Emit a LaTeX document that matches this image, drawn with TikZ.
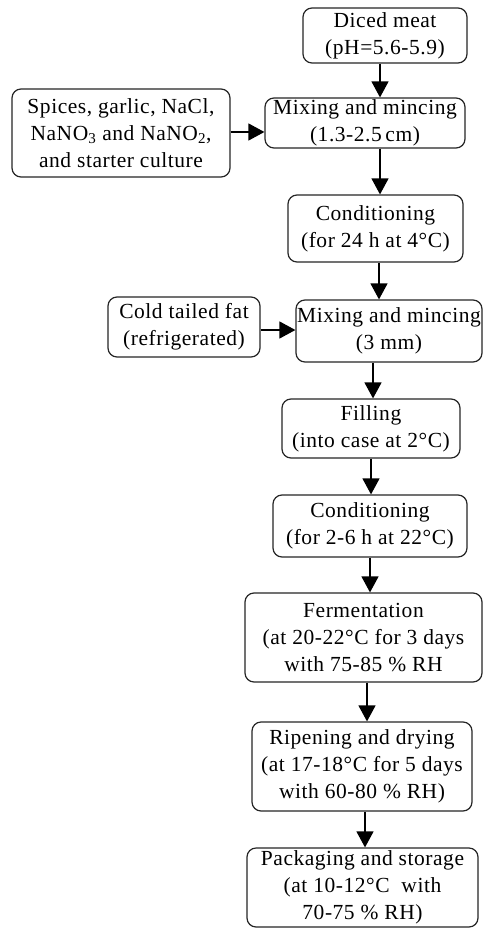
\documentclass[tikz,border=0pt]{standalone}
\usepackage{fontspec}
\setmainfont{Liberation Serif}[LetterSpace=2.5]
\usetikzlibrary{arrows.meta}
\begin{document}
\begin{tikzpicture}[x=1pt,y=-1pt,
  box/.style={draw=black!85,line width=1.2pt,rounded corners=9pt,inner sep=0pt,align=center,
    font=\fontsize{21.5}{27}\selectfont},
  arr/.style={line width=1.3pt,-{Triangle[width=17pt,length=16pt]}}]
\useasboundingbox[fill=white] (0,0) rectangle (483,928);
\node[box,minimum width=164pt,minimum height=55pt] (b1) at (385,35.5) {Diced meat\\(pH=5.6-5.9)};
\node[box,minimum width=200pt,minimum height=50pt] (b2) at (365,123) {Mixing and mincing\\(1.3-2.5\,cm)};
\node[box,minimum width=218pt,minimum height=88pt] (sp) at (121,133) {Spices, garlic, NaCl,\\NaNO\textsubscript{3} and NaNO\textsubscript{2},\\and starter culture};
\node[box,minimum width=175pt,minimum height=67pt] (b3) at (375.5,228.5) {Conditioning\\(for 24 h at 4°C)};
\node[box,minimum width=152pt,minimum height=60pt] (ft) at (184,327) {Cold tailed fat\\(refrigerated)};
\node[box,minimum width=186pt,minimum height=62pt] (b4) at (389,331) {Mixing and mincing\\(3 mm)};
\node[box,minimum width=178pt,minimum height=59pt] (b5) at (371,428.5) {Filling\\(into case at 2°C)};
\node[box,minimum width=194pt,minimum height=62pt] (b6) at (370,526) {Conditioning\\(for 2-6 h at 22°C)};
\node[box,minimum width=237pt,minimum height=89pt] (b7) at (363.5,637.5) {Fermentation\\(at 20-22°C for 3 days\\with 75-85 \% RH};
\node[box,minimum width=220pt,minimum height=89pt] (b8) at (362,766.5) {Ripening and drying\\(at 17-18°C for 5 days\\with 60-80 \% RH)};
\node[box,minimum width=231pt,minimum height=79pt] (b9) at (362.5,887.5) {Packaging and storage\\(at 10-12°C\ \ with\\70-75 \% RH)};
\coordinate (a1) at (380,0);
\coordinate (a2) at (380,0);
\coordinate (a3) at (379,0);
\coordinate (a4) at (373,0);
\coordinate (a5) at (371,0);
\coordinate (a6) at (370,0);
\coordinate (a7) at (367,0);
\coordinate (a8) at (365,0);
\coordinate (h1) at (0,132);
\coordinate (h2) at (0,330);
\draw[arr] (b1.south -| a1) -- (b2.north -| a1);
\draw[arr] (b2.south -| a2) -- (b3.north -| a2);
\draw[arr] (b3.south -| a3) -- (b4.north -| a3);
\draw[arr] (b4.south -| a4) -- (b5.north -| a4);
\draw[arr] (b5.south -| a5) -- (b6.north -| a5);
\draw[arr] (b6.south -| a6) -- (b7.north -| a6);
\draw[arr] (b7.south -| a7) -- (b8.north -| a7);
\draw[arr] (b8.south -| a8) -- (b9.north -| a8);
\draw[arr] (sp.east |- h1) -- (b2.west |- h1);
\draw[arr] (ft.east |- h2) -- (b4.west |- h2);
\end{tikzpicture}
\end{document}
